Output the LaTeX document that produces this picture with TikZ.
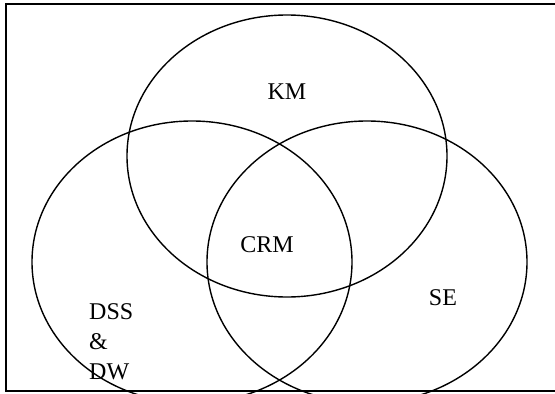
\documentclass[tikz,border=0pt]{standalone}
\usepackage{fontspec}
\setmainfont{Liberation Serif}
\begin{document}
\begin{tikzpicture}[x=1pt,y=-1pt,
        set/.style={line width=1.4pt},
        setname/.style={font=\fontsize{24}{30}\selectfont,inner sep=0pt}]
    \useasboundingbox (0,0) rectangle (555,394);
    \clip (0,0) rectangle (555,394);

    \draw[line width=1.8pt] (5.7,3.7) rectangle (570,390.7);

    \draw[set] (287,156) ellipse [x radius=160pt, y radius=141pt];
    \draw[set] (192,262) ellipse [x radius=160pt, y radius=141pt];
    \draw[set] (367,262) ellipse [x radius=160pt, y radius=141pt];

    \node[setname,anchor=base] (km) at (287,99) {KM};
    \node[setname,anchor=base] (crm) at (267,252) {CRM};
    \node[setname,anchor=base] (se) at (443,305) {SE};
    \node[setname,anchor=base west,align=left] (dss) at (89,379.3) {DSS\\\&\\DW};
\end{tikzpicture}
\end{document}
